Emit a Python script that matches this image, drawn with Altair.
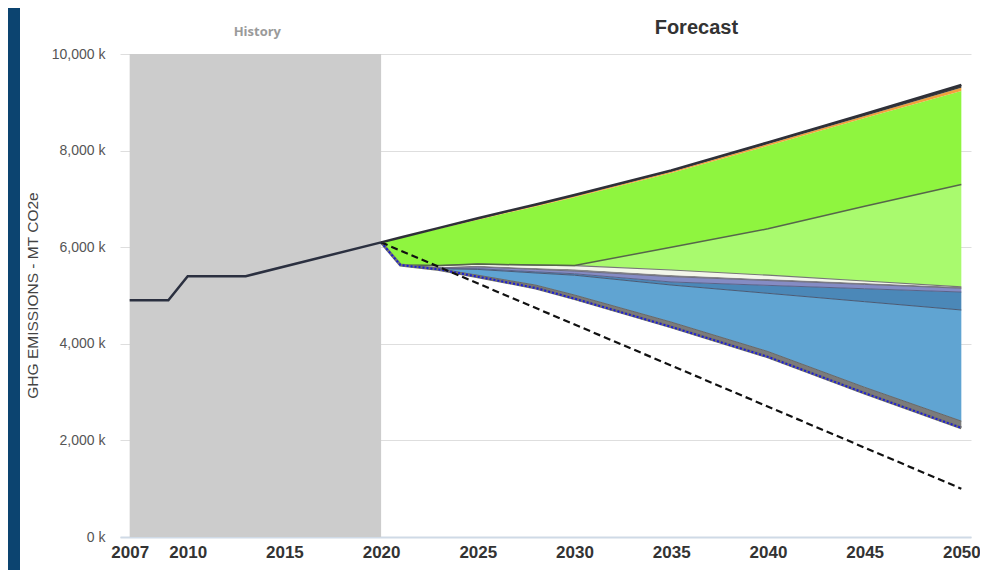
import altair as alt
import pandas as pd

# ---------------- data ----------------
history_span = [2007, 2020]
hist_years = [2007, 2009, 2010, 2013, 2020]
hist_vals = [4900, 4900, 5400, 5400, 6100]

fc_years   = [2020, 2021, 2023, 2025, 2028, 2030, 2035, 2040, 2045, 2050]
bottom     = [6100, 5630, 5540, 5390, 5155, 4935, 4350, 3730, 2980, 2260]
gray_top   = [6100, 5630, 5545, 5420, 5215, 5010, 4450, 3840, 3100, 2400]
lblue_top  = [6100, 5630, 5555, 5540, 5466, 5420, 5217, 5045, 4872, 4700]
sblue_top  = [6100, 5630, 5560, 5555, 5490, 5450, 5280, 5210, 5140, 5072]
purple_top = [6100, 5630, 5575, 5590, 5540, 5505, 5390, 5310, 5230, 5150]
gray2_top  = [6100, 5630, 5590, 5615, 5570, 5545, 5425, 5340, 5260, 5176]
white_top  = [6100, 5630, 5620, 5650, 5630, 5620, 5528, 5420, 5300, 5180]
lgreen_top = [6100, 5630, 5620, 5650, 5630, 5620, 6000, 6380, 6850, 7300]
green_top  = [6100, 6190, 6380, 6570, 6845, 7035, 7535, 8100, 8675, 9235]
orange_top = [6100, 6195, 6390, 6585, 6865, 7055, 7560, 8135, 8715, 9300]
total_top  = [6100, 6200, 6400, 6600, 6885, 7080, 7590, 8170, 8760, 9360]

target_years = [2020, 2050]
target_vals = [6100, 1000]

band_names = ["Gray stripe", "Light blue", "Steel blue", "Purple", "Gray",
              "White", "Light green", "Green", "Orange", "Dark"]
band_colors = ["#7b7b7b", "#60a4d2", "#4b88b8", "#858cc4", "#8a8a8a",
               "#f3f6ea", "#a9fa6e", "#8ff53f", "#f2a23c", "#3a3a3a"]
boundaries = [bottom, gray_top, lblue_top, sblue_top, purple_top, gray2_top,
              white_top, lgreen_top, green_top, orange_top, total_top]

x_ticks = [2007, 2010, 2015, 2020, 2025, 2030, 2035, 2040, 2045, 2050]
y_ticks = [0, 2000, 4000, 6000, 8000, 10000]

# ---------------- tables ----------------
band_rows = []
for i, name in enumerate(band_names):
    for j, yr in enumerate(fc_years):
        band_rows.append({"band": name, "order": i, "year": yr,
                          "lo": boundaries[i][j], "hi": boundaries[i + 1][j]})
bands_df = pd.DataFrame(band_rows)

edge_specs = [(gray_top, "#666666", 1.0),
              (lblue_top, "#4a5a74", 1.0),
              (sblue_top, "#5a6288", 1.0),
              (purple_top, "#6d6d80", 1.0),
              (white_top, "#777777", 1.2),
              (lgreen_top, "#56664a", 1.5)]

hist_df = pd.DataFrame({"year": hist_years, "v": hist_vals})
top_df = pd.DataFrame({"year": fc_years, "v": total_top})
bottom_df = pd.DataFrame({"year": fc_years, "v": bottom})
target_df = pd.DataFrame({"year": target_years, "v": target_vals})
span_df = pd.DataFrame({"x": [history_span[0]], "x2": [history_span[1]]})

# ---------------- scales / axes ----------------
xs = alt.Scale(domain=[2006.5, 2050.5], nice=False, zero=False)
ys = alt.Scale(domain=[0, 10000], nice=False, zero=True)

x_axis = alt.Axis(values=x_ticks, format="d", labelFontSize=17, labelFontWeight="bold",
                  labelColor="#333333", labelFont="Liberation Sans", labelPadding=7,
                  ticks=False, domainColor="#cfdae6", domainWidth=2, grid=False,
                  labelOverlap=False)
y_axis = alt.Axis(values=y_ticks, labelExpr="format(datum.value, ',') + ' k'",
                  labelFontSize=14, labelColor="#555555", labelFont="Liberation Sans",
                  labelPadding=15, ticks=False, domain=False, grid=True,
                  gridColor="#dedede", gridWidth=1,
                  titleFontSize=15.5, titleFontWeight="normal", titleColor="#444444",
                  titleFont="Liberation Sans", titleX=-88, titleY=241,
                  titleAngle=270, titleAlign="center", titleBaseline="middle")
Y_TITLE = "GHG EMISSIONS - MT CO2e"


def X(field):
    return alt.X(field, type="quantitative", scale=xs, axis=x_axis, title=None)


def Y(field):
    return alt.Y(field, type="quantitative", scale=ys, axis=y_axis, title=Y_TITLE)


# ---------------- layers ----------------
frame = alt.Chart(alt.Data(values=[{}])).mark_rect(color="#0c4470").encode(
    x=alt.value(-112), x2=alt.value(-100), y=alt.value(-46), y2=alt.value(520))

hist_band = alt.Chart(span_df).mark_rect(color="#cccccc").encode(
    x=X("x"), x2="x2",
    y=alt.YDatum(datum=10000, type="quantitative", scale=ys, axis=y_axis, title=Y_TITLE),
    y2=alt.Y2Datum(datum=0))

areas = alt.Chart(bands_df).mark_area(opacity=1, interpolate="linear").encode(
    x=X("year"), y=Y("lo"), y2="hi",
    color=alt.Color("band:N", scale=alt.Scale(domain=band_names, range=band_colors),
                    legend=None),
    detail="band:N")

edge_layers = []
for vals, col, w in edge_specs:
    edf = pd.DataFrame({"year": fc_years, "v": vals})
    edge_layers.append(alt.Chart(edf).mark_line(color=col, strokeWidth=w).encode(
        x=X("year"), y=Y("v")))

gray_under = alt.Chart(bottom_df).mark_line(color="#6f6f6f", strokeWidth=3).encode(
    x=X("year"), y=Y("v"))
dotted = alt.Chart(bottom_df).mark_line(color="#1d1dd6", strokeWidth=2,
                                        strokeDash=[2, 2]).encode(x=X("year"), y=Y("v"))

target = alt.Chart(target_df).mark_line(color="#111111", strokeWidth=2.2,
                                        strokeDash=[7, 4]).encode(x=X("year"), y=Y("v"))

hist_line = alt.Chart(hist_df).mark_line(color="#2b3040", strokeWidth=2.5).encode(
    x=X("year"), y=Y("v"))
top_line = alt.Chart(top_df).mark_line(color="#2e3038", strokeWidth=2.5).encode(
    x=X("year"), y=Y("v"))

forecast_txt = alt.Chart(alt.Data(values=[{}])).mark_text(
    text="Forecast", fontSize=20, fontWeight="bold", color="#333333",
    font="Liberation Sans").encode(
    x=alt.XDatum(datum=2036.3, type="quantitative", scale=xs, axis=x_axis, title=None),
    y=alt.YDatum(datum=10538, type="quantitative", scale=ys, axis=y_axis, title=Y_TITLE))

history_txt = alt.Chart(alt.Data(values=[{}])).mark_text(
    text="History", fontSize=13, fontWeight="bold", color="#9a9a9a",
    font="Open Sans").encode(
    x=alt.XDatum(datum=2013.6, type="quantitative", scale=xs, axis=x_axis, title=None),
    y=alt.YDatum(datum=10455, type="quantitative", scale=ys, axis=y_axis, title=Y_TITLE))

chart = alt.layer(
    hist_band, areas, *edge_layers, gray_under, dotted, target, hist_line, top_line,
    forecast_txt, history_txt, frame
).properties(
    width=851, height=483,
    padding={"left": 112, "top": 46, "right": 9, "bottom": 33},
    autosize=alt.AutoSizeParams(type="none"),
    background="white"
).configure_view(stroke=None)

chart.save("out.html", embed_options={"renderer": "svg", "actions": False})
